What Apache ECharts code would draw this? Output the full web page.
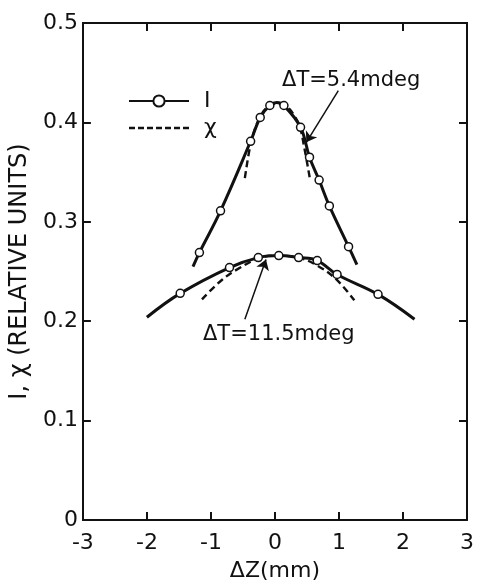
<!DOCTYPE html>
<html>
<head>
<meta charset="utf-8">
<script src="https://cdn.jsdelivr.net/npm/echarts@6/dist/echarts.min.js"></script>
<style>html,body{margin:0;padding:0;background:#fff;}#c{width:477px;height:587px;}</style>
</head>
<body>
<div id="c"></div>
<script>
// Axis ticks
const xTicks = [-3, -2, -1, 0, 1, 2, 3];
const yTicks = [0, 0.1, 0.2, 0.3, 0.4, 0.5];

// I, dT = 5.4 mdeg (curve trace; marked = measured point with circle)
const upperIX = [-1.28, -1.18, -0.85, -0.38, -0.23, -0.08, 0.03, 0.14, 0.40, 0.54, 0.69, 0.85, 1.15, 1.28];
const upperIY = [0.255, 0.269, 0.311, 0.381, 0.405, 0.417, 0.420, 0.417, 0.395, 0.365, 0.342, 0.316, 0.275, 0.257];
const upperIMarked = [0, 1, 1, 1, 1, 1, 0, 1, 1, 1, 1, 1, 1, 0];

// I, dT = 11.5 mdeg
const lowerIX = [-2.0, -1.48, -0.71, -0.26, 0.06, 0.37, 0.66, 0.97, 1.61, 2.18];
const lowerIY = [0.204, 0.228, 0.254, 0.264, 0.266, 0.264, 0.261, 0.247, 0.227, 0.202];
const lowerIMarked = [0, 1, 1, 1, 1, 1, 1, 1, 1, 0];

// chi, dT = 5.4 mdeg
const upperChiX = [-0.47, -0.39, -0.32, -0.24, -0.14, 0.01, 0.18, 0.30, 0.39, 0.46, 0.55];
const upperChiY = [0.344, 0.375, 0.392, 0.404, 0.414, 0.419, 0.416, 0.407, 0.395, 0.374, 0.342];

// chi, dT = 11.5 mdeg
const lowerChiX = [-1.14, -0.82, -0.54, -0.26, 0.0, 0.36, 0.66, 0.96, 1.24];
const lowerChiY = [0.222, 0.242, 0.254, 0.263, 0.266, 0.264, 0.256, 0.242, 0.221];

// Annotations (data coordinates)
const labelUpper = {text: 'ΔT=5.4mdeg', x: 1.19, y: 0.442};
const labelLower = {text: 'ΔT=11.5mdeg', x: 0.06, y: 0.187};
const arrowUpper = [[0.99, 0.432], [0.49, 0.380]];
const arrowLower = [[-0.47, 0.202], [-0.14, 0.262]];

const FONT = 'DejaVu Sans';
const INK = '#111';
const DASH_ICON = 'path://M0,0h6v2.6h-6zM9,0h6v2.6h-6zM18,0h6v2.6h-6zM27,0h6v2.6h-6zM36,0h6v2.6h-6zM45,0h6v2.6h-6zM54,0h6v2.6h-6z';

function markedData(xs, ys, marked) {
  return xs.map((x, i) => marked[i] ? [x, ys[i]] : {value: [x, ys[i]], symbol: 'none'});
}
function plainData(xs, ys) { return xs.map((x, i) => [x, ys[i]]); }

const chart = echarts.init(document.getElementById('c'), null, {renderer: 'canvas'});

const axisCommon = {
  axisLine: {show: true, onZero: false, lineStyle: {color: INK, width: 2}},
  axisTick: {show: true, inside: true, length: 8, lineStyle: {color: INK, width: 2}},
  splitLine: {show: false}
};

const iSeriesStyle = {
  type: 'line',
  name: 'I',
  smooth: 0.4,
  symbol: 'circle',
  symbolSize: 8,
  showSymbol: true,
  lineStyle: {color: INK, width: 3},
  itemStyle: {color: '#fff', borderColor: INK, borderWidth: 1.5},
  z: 3
};
const chiSeriesStyle = {
  type: 'line',
  name: 'χ',
  smooth: 0.4,
  symbol: 'none',
  lineStyle: {color: INK, width: 2.4, type: [7, 4]},
  itemStyle: {color: INK},
  z: 2
};

chart.setOption({
  animation: false,
  backgroundColor: '#fff',
  grid: {left: 80, right: 5, top: 23, bottom: 65},
  legend: {
    data: ['I', {name: 'χ', icon: DASH_ICON, itemStyle: {color: INK, borderWidth: 0}}],
    orient: 'vertical',
    left: 123,
    top: 85,
    itemWidth: 60,
    itemHeight: 14,
    itemGap: 5,
    textStyle: {fontFamily: FONT, fontSize: 22, color: INK, padding: [0, 0, 0, 10]}
  },
  xAxis: [
    Object.assign({}, axisCommon, {
      type: 'value', position: 'bottom', min: xTicks[0], max: xTicks[xTicks.length - 1], interval: 1,
      name: 'ΔZ(mm)', nameLocation: 'middle', nameGap: 40,
      nameTextStyle: {fontFamily: FONT, fontSize: 22, color: INK},
      axisLabel: {fontFamily: FONT, fontSize: 22, color: INK, margin: 12}
    }),
    Object.assign({}, axisCommon, {
      type: 'value', position: 'top', min: xTicks[0], max: xTicks[xTicks.length - 1], interval: 1,
      axisLabel: {show: false}
    })
  ],
  yAxis: [
    Object.assign({}, axisCommon, {
      type: 'value', position: 'left', min: yTicks[0], max: yTicks[yTicks.length - 1], interval: 0.1,
      name: 'I, χ (RELATIVE UNITS)', nameLocation: 'middle', nameGap: 43,
      nameTextStyle: {fontFamily: FONT, fontSize: 24, color: INK, padding: [0, 0, 0, 0]},
      axisLabel: {fontFamily: FONT, fontSize: 22, color: INK, margin: 5}
    }),
    Object.assign({}, axisCommon, {
      type: 'value', position: 'right', min: yTicks[0], max: yTicks[yTicks.length - 1], interval: 0.1,
      axisLabel: {show: false}
    })
  ],
  series: [
    Object.assign({}, iSeriesStyle, {
      data: markedData(upperIX, upperIY, upperIMarked),
      markLine: {
        silent: true, symbol: ['none', 'arrow'], symbolSize: 10,
        lineStyle: {color: INK, width: 1.5, type: 'solid'},
        label: {show: false},
        data: [
          [{coord: arrowUpper[0]}, {coord: arrowUpper[1]}],
          [{coord: arrowLower[0]}, {coord: arrowLower[1]}]
        ]
      }
    }),
    Object.assign({}, iSeriesStyle, {data: markedData(lowerIX, lowerIY, lowerIMarked)}),
    Object.assign({}, chiSeriesStyle, {data: plainData(upperChiX, upperChiY)}),
    Object.assign({}, chiSeriesStyle, {data: plainData(lowerChiX, lowerChiY)})
  ]
});

function labelGraphic(l) {
  const p = chart.convertToPixel({xAxisIndex: 0, yAxisIndex: 0}, [l.x, l.y]);
  return {
    type: 'text', x: p[0], y: p[1], z: 10,
    style: {text: l.text, fontFamily: FONT, fontSize: 21, fill: INK, align: 'center', verticalAlign: 'middle'}
  };
}
chart.setOption({graphic: [labelGraphic(labelUpper), labelGraphic(labelLower)]});
</script>
</body>
</html>
